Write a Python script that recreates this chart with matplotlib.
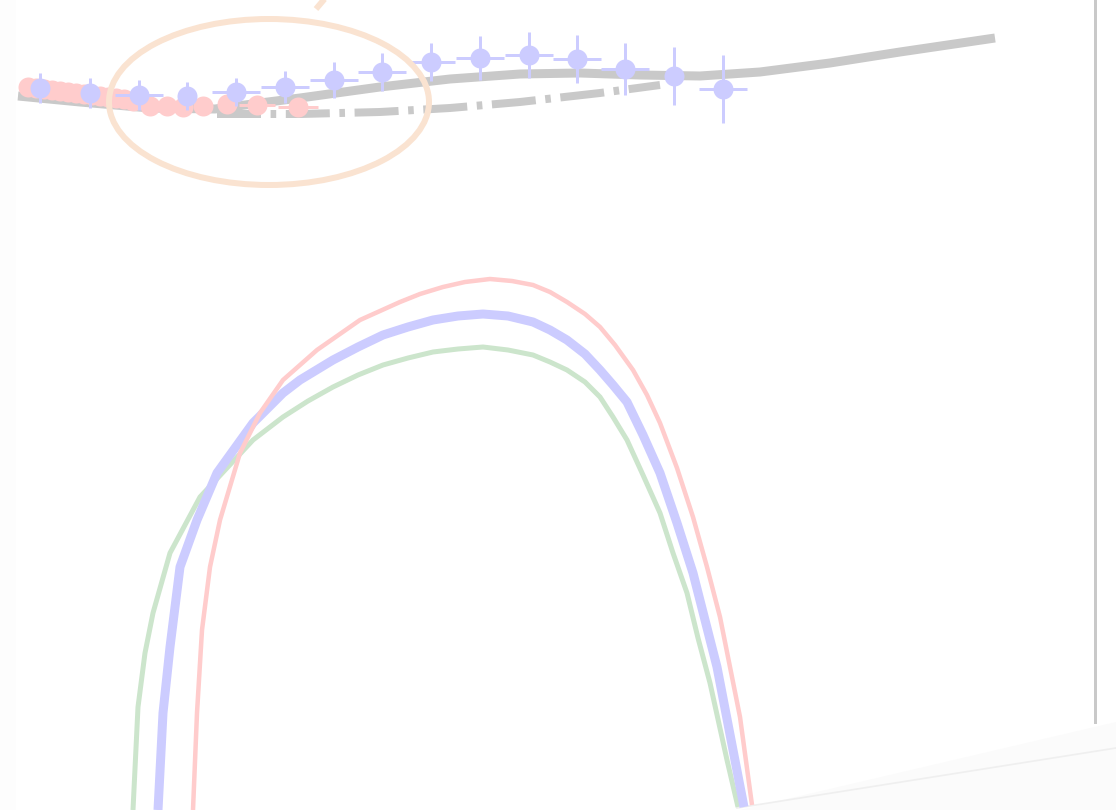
import matplotlib
matplotlib.use("Agg")
import matplotlib.pyplot as plt
from matplotlib.patches import Ellipse, Polygon

# ---- data (screen-like coordinates, y grows downward) ----
# smooth reference curve (solid) and its alternative (dash-dot)
ref_x = [18, 80, 150, 215, 260, 300, 380, 450, 520, 580, 640, 700, 760, 830, 900, 995]
ref_y = [96, 102, 108, 109, 103, 98, 87, 79, 74, 73, 75, 76, 72, 63, 52, 38]
alt_x = [217, 300, 380, 450, 520, 600, 660]
alt_y = [114, 114, 112, 108, 102, 93, 85]

# measured points with uncertainties (blue)
blue_x = [40, 90, 139, 187, 236, 285, 334, 382, 431, 480, 529, 577, 625, 674, 723]
blue_y = [88, 93, 95, 96, 92, 87, 80, 72, 62, 58, 55, 59, 69, 76, 89]
blue_yerr = [15, 15, 15, 14, 14, 16, 18, 19, 19, 22, 23, 24, 26, 29, 34]
blue_xerr = [0, 0, 24, 0, 24, 24, 24, 24, 24, 24, 24, 24, 24, 0, 24]

# dense measured points (pink)
pink_x = [28, 36, 44, 52, 60, 68, 76, 84, 92, 100, 108, 116, 124, 133, 150, 167, 183, 203, 227, 257, 298]
pink_y = [87, 88, 89, 90, 91, 92, 93, 94, 95, 96, 97, 98, 99, 101, 106, 106, 107, 106, 104, 105, 107]
pink_xerr = [0] * 19 + [18, 20]
pink_yerr = [0] * 19 + [0, 8]

# three arch-shaped profiles
red_x = [193, 197, 202, 210, 220, 240, 260, 283, 317, 360, 400, 420, 443, 465, 490, 512, 533,
         550, 567, 585, 600, 615, 633, 647, 660, 677, 693, 707, 720, 740, 752]
red_y = [810, 713, 630, 567, 520, 453, 413, 380, 350, 320, 302, 294, 287, 282, 279, 281, 285,
         292, 302, 314, 327, 345, 370, 395, 423, 468, 517, 567, 617, 717, 805]
mid_x = [158, 163, 170, 180, 197, 217, 253, 283, 300, 333, 358, 383, 408, 433, 458, 483, 508,
         533, 550, 567, 585, 600, 613, 627, 643, 660, 677, 693, 705, 717, 733, 744]
mid_y = [810, 713, 647, 567, 520, 473, 423, 393, 380, 360, 347, 335, 327, 320, 316, 314, 316,
         322, 330, 340, 354, 370, 385, 402, 435, 473, 523, 573, 620, 667, 750, 807]
grn_x = [133, 138, 145, 153, 170, 200, 253, 283, 308, 333, 358, 383, 408, 433, 458, 483, 508,
         533, 550, 567, 585, 600, 613, 627, 643, 660, 673, 687, 698, 710, 727, 738]
grn_y = [810, 707, 653, 613, 553, 497, 440, 417, 401, 387, 375, 365, 358, 352, 349, 347, 350,
         355, 362, 370, 382, 397, 417, 440, 475, 513, 553, 593, 638, 683, 760, 807]

# highlight ellipse: centre, width, height
ell_center = (269, 102)
ell_size = (320, 166)

W, H = 1116, 810
fig = plt.figure(figsize=(W / 100, H / 100), dpi=100)
ax = fig.add_axes([0, 0, 1, 1])
ax.set_xlim(0, W)
ax.set_ylim(H, 0)
ax.axis("off")

px = 72 / 100  # pixels -> points

GRAY = "#c9c9c9"
BLUE = "#ccccff"
PINK = "#ffcccc"
GREEN = "#cce5cc"
PEACH = "#fae3d1"

# faint page background at the left edge
ax.add_patch(Polygon([[0, 0], [16, 0], [16, 810], [0, 810]], closed=True,
                     facecolor="#fdfdfd", edgecolor="none", zorder=0))

# lower-right sheet edge
ax.add_patch(Polygon([[740, 810], [1116, 722], [1116, 810]], closed=True,
                     facecolor="#fbfbfb", edgecolor="none", zorder=1))
ax.plot([737, 1116], [808, 748], color="#efefef", lw=1.2, zorder=1)

# right border
ax.plot([1095, 1095], [0, 722], color=GRAY, lw=3 * px, zorder=1)

# arches
arch_kw = dict(solid_joinstyle="round", solid_capstyle="butt")
ax.plot(grn_x, grn_y, color=GREEN, lw=5 * px, zorder=2, **arch_kw)
ax.plot(mid_x, mid_y, color=BLUE, lw=9 * px, zorder=3, **arch_kw)
ax.plot(red_x, red_y, color=PINK, lw=4.5 * px, zorder=4, **arch_kw)

# reference curves
ax.plot(ref_x, ref_y, color=GRAY, lw=9 * px, solid_capstyle="butt", zorder=5)
ax.plot(alt_x, alt_y, color=GRAY, lw=8 * px, dash_capstyle="butt",
        linestyle=(0, (5.5, 1.2, 0.7, 1.2)), zorder=5)

# pink points
ax.errorbar(pink_x, pink_y, xerr=pink_xerr, yerr=pink_yerr, fmt="o",
            color=PINK, ms=20 * px, elinewidth=3 * px, capsize=0,
            markeredgewidth=0, zorder=6)

# blue points
ax.errorbar(blue_x, blue_y, xerr=blue_xerr, yerr=blue_yerr, fmt="o",
            color=BLUE, ms=20 * px, elinewidth=3 * px, capsize=0,
            markeredgewidth=0, zorder=7)

# highlight ellipse and pointer
ax.add_patch(Ellipse(ell_center, ell_size[0], ell_size[1], fill=False,
                     edgecolor=PEACH, lw=6 * px, zorder=8))
ax.plot([316, 327], [9, -4], color=PEACH, lw=6 * px, solid_capstyle="butt", zorder=8)

fig.savefig("out.png", dpi=100)
